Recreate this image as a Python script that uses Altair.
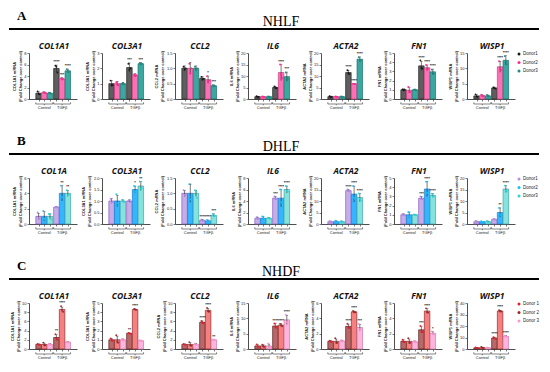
import altair as alt
import pandas as pd

GROUPS = ["Control", "TGFβ"]

# ---------------- Row A : NHLF ----------------
A_LETTER, A_NAME = "A", "NHLF"
A_DONORS = ["Donor1", "Donor2", "Donor3"]
A_GENES = ["COL1A1", "COL3A1", "CCL2", "IL6", "ACTA2", "FN1", "WISP1"]
A_AXIS = ["COL1A1", "COL3A1", "CCL2", "IL6", "ACTA2", "FN1", "WISP1"]
A_TICKS = [[0, 2, 4, 6, 8], [0, 1, 2, 3], [0, 0.5, 1.0, 1.5], [0, 5, 10, 15, 20],
           [0, 5, 10, 15, 20], [0, 1, 2, 3, 4, 5], [0, 5, 10, 15]]
A_MEAN = [[1.0, 1.1, 1.0, 5.3, 3.5, 4.9],
          [1.0, 1.0, 1.0, 2.05, 1.55, 2.3],
          [1.0, 1.0, 1.0, 0.67, 0.63, 0.43],
          [1.0, 1.0, 1.0, 5.0, 11.5, 9.7],
          [1.0, 1.0, 1.0, 11.5, 6.6, 17.3],
          [1.0, 0.95, 1.0, 3.6, 3.4, 2.95],
          [1.0, 1.1, 1.0, 3.6, 10.5, 12.6]]
A_ERR = [[0.25, 0.15, 0.1, 0.6, 0.2, 0.3],
         [0.2, 0.15, 0.08, 0.3, 0.1, 0.08],
         [0.08, 0.2, 0.08, 0.06, 0.12, 0.03],
         [0.2, 0.2, 0.2, 0.5, 3.5, 2.0],
         [0.3, 0.2, 0.2, 1.0, 0.2, 1.0],
         [0.1, 0.3, 0.05, 0.5, 0.3, 0.3],
         [0.4, 0.3, 0.3, 0.3, 1.8, 1.5]]
A_PTS = [[[1.3, 0.9, 0.8], [1.2, 1.1, 1.0], [1.1, 1.0, 0.9], [5.8, 5.6, 4.6], [3.6, 3.4, 3.5], [5.2, 4.8, 4.7]],
         [[1.2, 0.9, 0.9], [1.1, 1.0, 0.9], [1.0, 1.05, 0.95], [2.3, 1.9, 2.0], [1.6, 1.5, 1.55], [2.35, 2.25, 2.3]],
         [[1.05, 0.95, 1.0], [1.15, 0.85, 1.0], [1.05, 0.95, 1.0], [0.72, 0.63, 0.66], [0.74, 0.55, 0.6], [0.45, 0.41, 0.43]],
         [[1.2, 0.9, 0.9], [1.1, 1.0, 0.9], [1.1, 0.9, 1.0], [5.5, 4.8, 4.7], [15.0, 10.5, 9.0], [11.5, 9.0, 8.6]],
         [[1.2, 0.9, 0.9], [1.1, 1.0, 0.9], [1.1, 1.0, 0.9], [12.5, 11.2, 10.8], [6.7, 6.5, 6.6], [18.2, 17.0, 16.7]],
         [[1.05, 0.95, 1.0], [1.3, 0.8, 0.75], [1.0, 1.05, 0.95], [4.2, 3.4, 3.3], [3.7, 3.2, 3.3], [3.2, 2.9, 2.75]],
         [[1.5, 0.8, 0.7], [1.4, 1.0, 0.9], [1.3, 0.8, 0.9], [3.8, 3.5, 3.4], [12.3, 9.8, 9.4], [14.0, 12.5, 11.3]]]
A_STARS = [["", "", "", "****", "***", "****"],
           ["", "", "", "***", "", "***"],
           ["", "", "", "", "*", "***"],
           ["", "", "", "", "****", "***"],
           ["", "", "", "****", "****", "****"],
           ["", "", "", "****", "****", "****"],
           ["", "", "", "", "****", "****"]]
A_FILL = ["#5e5e5e", "#ff6fb5", "#3aa7a0"]
A_STROKE = ["#222222", "#c9407f", "#1d6f69"]
A_DOT = ["#1a1a1a", "#ff2a93", "#1f8c84"]

# ---------------- Row B : DHLF ----------------
B_LETTER, B_NAME = "B", "DHLF"
B_DONORS = ["Donor1", "Donor2", "Donor3"]
B_GENES = ["COL1A", "COL3A1", "CCL2", "IL6", "ACTA2", "FN1", "WISP1"]
B_AXIS = ["COL1A1", "COL3A1", "CCL2", "IL6", "ACTA2", "FN1", "WISP1"]
B_TICKS = [[0, 2, 4, 6], [0, 0.5, 1.0, 1.5, 2.0], [0, 0.5, 1.0, 1.5], [0, 2, 4, 6, 8],
           [0, 5, 10, 15, 20], [0, 1, 2, 3, 4, 5], [0, 5, 10, 15, 20]]
B_MEAN = [[1.0, 1.0, 1.0, 2.2, 4.0, 4.0],
          [1.0, 1.0, 1.0, 1.0, 1.5, 1.65],
          [1.0, 1.0, 1.0, 0.12, 0.1, 0.28],
          [1.0, 1.0, 1.0, 4.5, 4.5, 6.0],
          [1.0, 1.0, 1.0, 14.5, 13.0, 11.5],
          [1.0, 1.0, 1.0, 2.8, 3.8, 3.1],
          [1.0, 1.0, 1.0, 2.0, 5.0, 15.2]]
B_ERR = [[0.4, 0.6, 0.3, 0.05, 1.0, 0.4],
         [0.1, 0.25, 0.05, 0.05, 0.15, 0.2],
         [0.1, 0.3, 0.1, 0.03, 0.03, 0.05],
         [0.2, 0.3, 0.1, 0.3, 1.5, 0.6],
         [0.3, 0.4, 0.3, 0.5, 3.5, 1.8],
         [0.1, 0.3, 0.05, 0.2, 0.8, 0.2],
         [0.3, 0.2, 0.3, 0.2, 2.0, 1.5]]
B_PTS = [[[1.5, 0.8, 0.7], [1.7, 0.7, 0.6], [1.3, 1.3, 0.6], [2.2, 2.25, 2.15], [5.0, 3.5, 3.5], [4.4, 3.8, 3.8]],
         [[1.1, 0.95, 0.95], [1.3, 0.9, 0.8], [1.05, 1.0, 0.95], [1.0, 1.05, 0.95], [1.65, 1.4, 1.45], [1.85, 1.55, 1.55]],
         [[1.1, 0.95, 0.95], [1.3, 0.8, 0.9], [1.1, 1.05, 0.85], [0.15, 0.1, 0.11], [0.13, 0.08, 0.09], [0.33, 0.25, 0.26]],
         [[1.2, 0.9, 0.9], [1.3, 0.9, 0.8], [1.1, 1.0, 0.9], [4.8, 4.4, 4.3], [6.0, 3.8, 3.7], [6.6, 5.8, 5.6]],
         [[1.2, 0.9, 0.9], [1.4, 0.8, 0.8], [1.2, 0.9, 0.9], [15.0, 14.3, 14.2], [16.5, 11.5, 11.0], [13.3, 11.0, 10.2]],
         [[1.1, 0.95, 0.95], [1.3, 0.85, 0.85], [1.05, 1.0, 0.95], [3.0, 2.7, 2.7], [4.6, 3.4, 3.4], [3.3, 3.0, 3.0]],
         [[1.3, 0.9, 0.8], [1.2, 0.9, 0.9], [1.3, 0.9, 0.8], [2.2, 1.9, 1.9], [7.0, 4.2, 3.8], [16.7, 14.5, 14.4]]]
B_STARS = [["", "", "", "", "**", "**"],
           ["", "", "", "", "*", "**"],
           ["", "", "", "****", "****", "***"],
           ["", "", "", "***", "****", "****"],
           ["", "", "", "****", "****", "****"],
           ["", "", "", "***", "****", "****"],
           ["", "", "", "", "**", "****"]]
B_FILL = ["#c6ade8", "#33b6ff", "#86e2dc"]
B_STROKE = ["#8a5fc0", "#1b7fcf", "#3aa8a6"]
B_DOT = ["#b58ce3", "#10c3ff", "#2ad5d8"]

# ---------------- Row C : NHDF ----------------
C_LETTER, C_NAME = "C", "NHDF"
C_DONORS = ["Donor 1", "Donor 2", "Donor 3"]
C_GENES = ["COL1A1", "COL3A1", "CCL2", "IL6", "ACTA2", "FN1", "WISP1"]
C_AXIS = ["COL1A1", "COL3A1", "CCL2", "IL6", "ACTA2", "FN1", "WISP1"]
C_TICKS = [[0, 2, 4, 6, 8, 10], [0, 1, 2, 3, 4, 5], [0, 2, 4, 6, 8, 10], [0, 5, 10, 15],
           [0, 2, 4, 6], [0, 2, 4, 6], [0, 10, 20, 30, 40]]
C_MEAN = [[1.0, 1.0, 1.0, 2.5, 8.6, 1.5],
          [1.0, 1.0, 1.0, 1.7, 4.3, 0.9],
          [1.0, 1.0, 1.0, 5.8, 8.4, 2.0],
          [1.0, 1.0, 1.0, 7.5, 7.8, 9.5],
          [1.0, 1.0, 1.05, 2.95, 4.85, 2.8],
          [1.0, 1.0, 0.95, 2.5, 4.95, 2.05],
          [1.0, 1.2, 1.0, 9.5, 33.0, 11.0]]
C_ERR = [[0.1, 0.3, 0.15, 0.6, 0.5, 0.1],
         [0.15, 0.4, 0.1, 0.05, 0.05, 0.05],
         [0.1, 0.4, 0.2, 0.3, 0.4, 0.1],
         [0.4, 0.4, 0.6, 0.8, 0.5, 1.5],
         [0.1, 0.3, 0.1, 0.3, 0.1, 0.4],
         [0.2, 0.3, 0.1, 0.4, 0.3, 0.2],
         [0.3, 0.5, 0.3, 0.8, 0.7, 0.6]]
C_PTS = [[[1.1, 0.95, 0.95], [1.4, 0.8, 0.8], [1.15, 0.95, 0.9], [3.2, 2.3, 2.0], [9.3, 8.5, 8.1], [1.6, 1.5, 1.4]],
         [[1.15, 0.95, 0.9], [1.5, 0.8, 0.7], [1.1, 1.0, 0.9], [1.75, 1.7, 1.65], [4.35, 4.3, 4.25], [0.95, 0.9, 0.85]],
         [[1.1, 0.95, 0.95], [1.5, 0.8, 0.7], [1.2, 0.9, 0.9], [6.1, 5.7, 5.6], [8.9, 8.2, 8.1], [2.1, 2.0, 1.9]],
         [[1.5, 0.8, 0.7], [1.4, 0.9, 0.7], [1.8, 0.7, 0.5], [8.3, 7.2, 7.0], [8.2, 7.8, 7.4], [11.2, 8.8, 8.5]],
         [[1.1, 0.95, 0.95], [1.4, 0.8, 0.8], [1.15, 1.0, 1.0], [3.3, 2.8, 2.75], [4.95, 4.8, 4.8], [3.3, 2.6, 2.5]],
         [[1.2, 0.9, 0.9], [1.4, 0.8, 0.8], [1.05, 0.95, 0.85], [3.0, 2.3, 2.2], [5.3, 4.8, 4.75], [2.3, 1.95, 1.9]],
         [[1.3, 0.9, 0.8], [1.7, 1.0, 0.9], [1.3, 0.9, 0.8], [10.3, 9.2, 9.0], [33.7, 32.7, 32.6], [11.6, 10.8, 10.6]]]
C_STARS = [["", "", "", "**", "****", ""],
           ["", "", "", "**", "****", ""],
           ["", "", "", "****", "****", "**"],
           ["", "", "", "****", "****", "****"],
           ["", "", "", "****", "****", "***"],
           ["", "", "", "***", "****", "*"],
           ["", "", "", "****", "****", "****"]]
C_FILL = ["#b86868", "#f67f80", "#ffb4de"]
C_STROKE = ["#5c1c1c", "#8e2c2c", "#c97aa6"]
C_DOT = ["#e3212b", "#9c2a2a", "#ff94d2"]

W, H = 48, 46
LBL_FONT = "Liberation Sans"


def header_layers(letter, name):
    df = pd.DataFrame([{"letter": letter, "name": name}])
    b = alt.Chart(df)
    t1 = b.mark_text(font="Liberation Serif", fontSize=13, fontWeight="bold", align="left",
                     baseline="middle", color="black").encode(
        x=alt.value(-12), y=alt.value(-37), text="letter:N")
    t2 = b.mark_text(font="Liberation Serif", fontSize=14, align="center", baseline="middle",
                     color="black").encode(x=alt.value(252), y=alt.value(-31), text="name:N")
    r = b.mark_rule(strokeWidth=1.8, color="black").encode(
        x=alt.value(-20), x2=alt.value(510), y=alt.value(-24))
    return [t1, t2, r]


def legend_layers(donors, dots):
    ldf = pd.DataFrame({"donor": donors})
    ly = alt.Y("donor:N", scale=alt.Scale(type="point", domain=donors, range=[1, 18], padding=0),
               axis=None)
    lc = alt.Color("donor:N", scale=alt.Scale(domain=donors, range=dots), legend=None)
    b = alt.Chart(ldf)
    sym = b.mark_circle(size=9, opacity=1).encode(x=alt.value(W + 4), y=ly, color=lc)
    txt = b.mark_text(fontSize=4.5, font=LBL_FONT, color="#222", align="left",
                      baseline="middle").encode(x=alt.value(W + 8), y=ly, text="donor:N")
    return [sym, txt]


def panel(gene, axis_gene, ticks, means, errs, pts, stars, donors, fills, strokes, dots,
          show_legend, hdr=None):
    bars = []
    for i in range(6):
        p = 5.8 + 7.2 * (i % 3) + 22.5 * (i // 3)
        hi = means[i] + errs[i]
        bars.append(dict(pos=p, donor=donors[i % 3], mean=means[i],
                         lo=max(means[i] - errs[i], 0), hi=hi,
                         top=max(hi, max(pts[i])), star=stars[i]))
    bdf = pd.DataFrame(bars)
    pdf = pd.DataFrame([dict(px=bars[i]["pos"] + (j - 1) * 1.3, v=pts[i][j], donor=donors[i % 3])
                        for i in range(6) for j in range(3)])
    gdf = pd.DataFrame([dict(start=bars[3 * g]["pos"] - 3.5, end=bars[3 * g + 2]["pos"] + 3.5,
                             mid=(bars[3 * g]["pos"] + bars[3 * g + 2]["pos"]) / 2, label=GROUPS[g])
                        for g in range(2)])
    tdf = pd.DataFrame([{"gene": gene}])
    xs = alt.Scale(domain=[0, W], nice=False, zero=False)
    ys = alt.Scale(domain=[0, ticks[-1]], nice=False)
    fmt = ".1f" if any(t != int(t) for t in ticks) else "d"
    xax = alt.Axis(values=[b["pos"] for b in bars], labels=False, title=None, tickSize=2,
                   tickWidth=0.6, domainWidth=0.8, domainColor="#222", tickColor="#222", grid=False)
    yax = alt.Axis(values=ticks, format=fmt, title=[f"{axis_gene} mRNA", "(Fold Change over control)"],
                   titleFontSize=4, titleFont=LBL_FONT, titleFontWeight="bold", titleColor="#222",
                   labelFontSize=4, labelFont=LBL_FONT, labelColor="#222", labelPadding=1,
                   titlePadding=1.5, tickSize=2, tickWidth=0.6, domainWidth=0.8,
                   domainColor="#222", tickColor="#222", grid=False)

    def X(f):
        return alt.X(f, type="quantitative", scale=xs, axis=xax)

    def Y(f):
        return alt.Y(f, type="quantitative", scale=ys, axis=yax)

    base = alt.Chart(bdf)
    bar = base.mark_bar(size=5.5, strokeWidth=0.7).encode(
        x=X("pos"), y=Y("mean"),
        fill=alt.Fill("donor:N", scale=alt.Scale(domain=donors, range=fills), legend=None),
        stroke=alt.Stroke("donor:N", scale=alt.Scale(domain=donors, range=strokes), legend=None))
    err = base.mark_rule(strokeWidth=0.6, color="#222").encode(x=X("pos"), y=Y("lo"), y2="hi")
    cap = base.mark_tick(orient="horizontal", size=2.4, thickness=0.6, color="#222").encode(
        x=X("pos"), y=Y("hi"))
    dot = alt.Chart(pdf).mark_circle(size=3.5, opacity=1).encode(
        x=X("px"), y=Y("v"),
        color=alt.Color("donor:N", scale=alt.Scale(domain=donors, range=dots), legend=None))
    st = base.mark_text(fontSize=3.8, dy=-0.8, baseline="bottom", font=LBL_FONT,
                        fontWeight="bold", color="#111").encode(x=X("pos"), y=Y("top"), text="star:N")
    gb = alt.Chart(gdf)
    br = gb.mark_rule(strokeWidth=0.6, color="#333").encode(x=X("start"), x2="end", y=alt.value(H + 5))
    brl = gb.mark_rule(strokeWidth=0.6, color="#333").encode(
        x=X("start"), y=alt.value(H + 3.3), y2=alt.value(H + 5))
    brr = gb.mark_rule(strokeWidth=0.6, color="#333").encode(
        x=X("end"), y=alt.value(H + 3.3), y2=alt.value(H + 5))
    brm = gb.mark_rule(strokeWidth=0.6, color="#333").encode(
        x=X("mid"), y=alt.value(H + 5), y2=alt.value(H + 6.3))
    lab = gb.mark_text(fontSize=4, baseline="top", font=LBL_FONT, color="#222").encode(
        x=X("mid"), y=alt.value(H + 7), text="label:N")
    ttl = alt.Chart(tdf).mark_text(fontSize=8.5, font="Open Sans", fontStyle="italic",
                                   fontWeight="bold", color="#111", baseline="bottom",
                                   align="center").encode(
        x=alt.value(W / 2 + 1), y=alt.value(-2), text="gene:N")
    layers = [bar, err, cap, dot, st, br, brl, brr, brm, lab, ttl]
    if hdr is not None:
        layers += header_layers(*hdr)
    main = alt.layer(*layers)
    if show_legend:
        return alt.layer(main, *legend_layers(donors, dots)).resolve_scale(
            y="independent").properties(width=W, height=H)
    return main.properties(width=W, height=H)


def row(letter, name, genes, axis, ticks, means, errs, pts, stars, donors, fills, strokes, dots):
    return [panel(genes[k], axis[k], ticks[k], means[k], errs[k], pts[k], stars[k],
                  donors, fills, strokes, dots, k == 6, (letter, name) if k == 0 else None)
            for k in range(7)]


panels = (row(A_LETTER, A_NAME, A_GENES, A_AXIS, A_TICKS, A_MEAN, A_ERR, A_PTS, A_STARS,
              A_DONORS, A_FILL, A_STROKE, A_DOT)
          + row(B_LETTER, B_NAME, B_GENES, B_AXIS, B_TICKS, B_MEAN, B_ERR, B_PTS, B_STARS,
                B_DONORS, B_FILL, B_STROKE, B_DOT)
          + row(C_LETTER, C_NAME, C_GENES, C_AXIS, C_TICKS, C_MEAN, C_ERR, C_PTS, C_STARS,
                C_DONORS, C_FILL, C_STROKE, C_DOT))

chart = alt.concat(
    *panels, columns=7, spacing={"row": 79, "column": 25}, bounds="flush",
).resolve_scale(
    x="independent", y="independent", color="independent", fill="independent", stroke="independent"
).properties(padding={"top": 2, "left": 0, "right": 0, "bottom": 0}).configure_view(stroke=None)

chart.save("out.html", embed_options={"renderer": "svg", "actions": False})
